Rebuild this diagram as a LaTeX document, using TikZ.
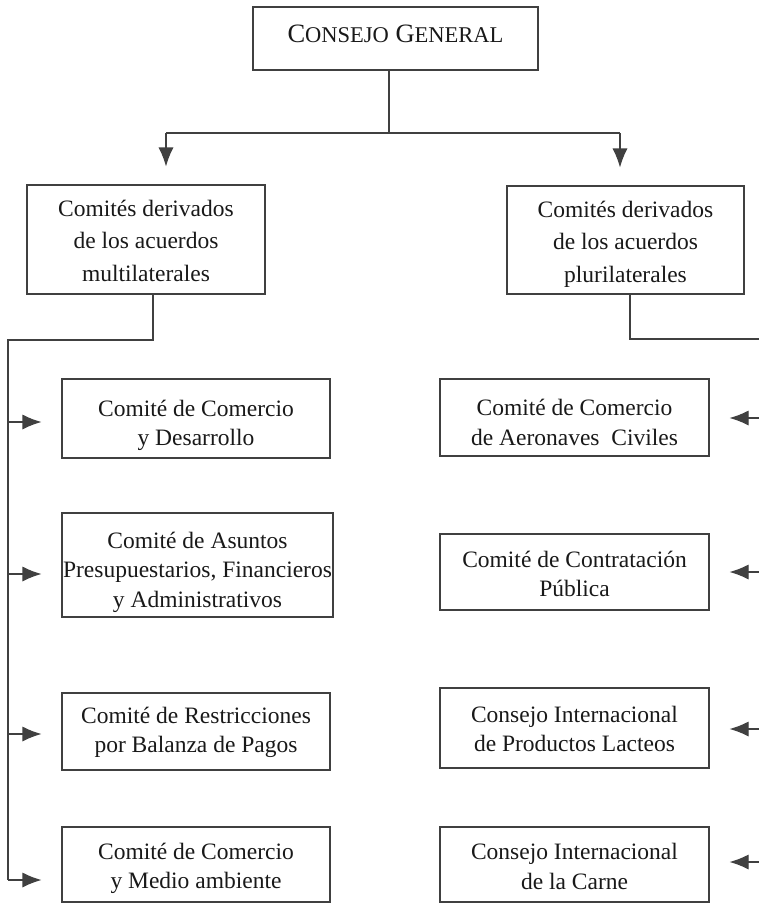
\documentclass[tikz,border=0pt]{standalone}
\usepackage{fontspec}
\setmainfont{Liberation Serif}
\usetikzlibrary{arrows.meta,calc}
\definecolor{linec}{gray}{0.25}
\definecolor{textc}{gray}{0.1}
\begin{document}
\begin{tikzpicture}[x=1pt,y=-1pt,
  box/.style={draw=linec, line width=1.1pt, inner sep=0pt},
  txt/.style={inner sep=0pt, align=center, font=\fontsize{23.5}{29.5}\selectfont, text=textc},
  bigtxt/.style={txt, font=\fontsize{23.5}{32.5}\selectfont},
  lbox/.style={box, minimum width=268pt},
  rbox/.style={box, minimum width=269pt},
  ln/.style={draw=linec, line width=1.1pt},
  arr/.style={ln, -{Latex[length=19pt,width=15pt]}}]
\fill[white] (0,0) rectangle (759,903);
\useasboundingbox (0,0) rectangle (759,903);

% top
\node[box, minimum width=285pt, minimum height=63pt] (cg) at (395.5,38.5) {};
\node[txt, text height=19pt, text depth=12pt] (cgt) at (cg.center)
  {\fontsize{26.5}{30}\selectfont C{\fontsize{22.5}{30}\selectfont ONSEJO} G{\fontsize{22.5}{30}\selectfont ENERAL}};

\node[box, minimum width=238pt, minimum height=109pt] (ml) at (146,239.5) {};
\node[bigtxt] (mlt) at ([yshift=-1pt]ml.center) {Comités derivados\\de los acuerdos\\multilaterales};
\node[box, minimum width=237pt, minimum height=108pt] (pl) at (625.5,240) {};
\node[bigtxt] (plt) at ([yshift=-4pt]pl.center) {Comités derivados\\de los acuerdos\\plurilaterales};

% left boxes
\node[lbox, minimum height=79pt] (l1) at (196,418.5) {};
\node[txt] (l1t) at ([yshift=-7pt]l1.center) {Comité de Comercio\\y Desarrollo};
\node[box, minimum width=271pt, minimum height=104pt] (l2) at (197.5,565) {};
\node[txt] (l2t) at ([yshift=-7pt]l2.center) {Comité de Asuntos\\Presupuestarios, Financieros\\y Administrativos};
\node[lbox, minimum height=77pt] (l3) at (196,731.5) {};
\node[txt] (l3t) at ([yshift=-1pt]l3.center) {Comité de Restricciones\\por Balanza de Pagos};
\node[lbox, minimum height=75pt] (l4) at (196,864.5) {};
\node[txt] (l4t) at ([yshift=-4pt]l4.center) {Comité de Comercio\\y Medio ambiente};

% right boxes
\node[rbox, minimum height=77pt] (r1) at (574.5,417.5) {};
\node[txt] (r1t) at ([yshift=-5pt]r1.center) {Comité de Comercio\\de Aeronaves~ Civiles};
\node[rbox, minimum height=76pt] (r2) at (574.5,572) {};
\node[txt] (r2t) at ([yshift=-2pt]r2.center) {Comité de Contratación\\Pública};
\node[rbox, minimum height=80pt] (r3) at (574.5,728) {};
\node[txt] (r3t) at ([yshift=-1pt]r3.center) {Consejo Internacional\\de Productos Lacteos};
\node[rbox, minimum height=75pt] (r4) at (574.5,864.5) {};
\node[txt] (r4t) at ([yshift=-2pt]r4.center) {Consejo Internacional\\de la Carne};

% top connectors
\coordinate (tj) at (389,133);
\coordinate (lj) at (166,133);
\coordinate (rj) at (620,133);
\draw[ln] (cg.south -| tj) -- (tj);
\draw[ln] (lj) -- (rj);
\draw[arr] (lj) -- ([yshift=18pt]ml.north -| lj);
\draw[arr] (rj) -- ([yshift=18pt]pl.north -| rj);

% left spine
\coordinate (lsa) at (153,340);
\coordinate (lsb) at (8,340);
\coordinate (a1) at (8,422);
\coordinate (a2) at (8,574);
\coordinate (a3) at (8,734);
\coordinate (a4) at (8,880);
\draw[ln] (ml.south -| lsa) -- (lsa) -- (lsb) -- (a4);
\draw[arr] (a1) -- ([xshift=-20pt]l1.west |- a1);
\draw[arr] (a2) -- ([xshift=-20pt]l2.west |- a2);
\draw[arr] (a3) -- ([xshift=-20pt]l3.west |- a3);
\draw[arr] (a4) -- ([xshift=-20pt]l4.west |- a4);

% right spine (off picture edge)
\coordinate (rsa) at (630,339);
\coordinate (rsb) at (760,339);
\coordinate (b1) at (760,418);
\coordinate (b2) at (760,572);
\coordinate (b3) at (760,729);
\coordinate (b4) at (760,862);
\draw[ln] (pl.south -| rsa) -- (rsa) -- (rsb);
\draw[arr] (b1) -- ([xshift=20pt]r1.east |- b1);
\draw[arr] (b2) -- ([xshift=20pt]r2.east |- b2);
\draw[arr] (b3) -- ([xshift=20pt]r3.east |- b3);
\draw[arr] (b4) -- ([xshift=20pt]r4.east |- b4);
\end{tikzpicture}
\end{document}
